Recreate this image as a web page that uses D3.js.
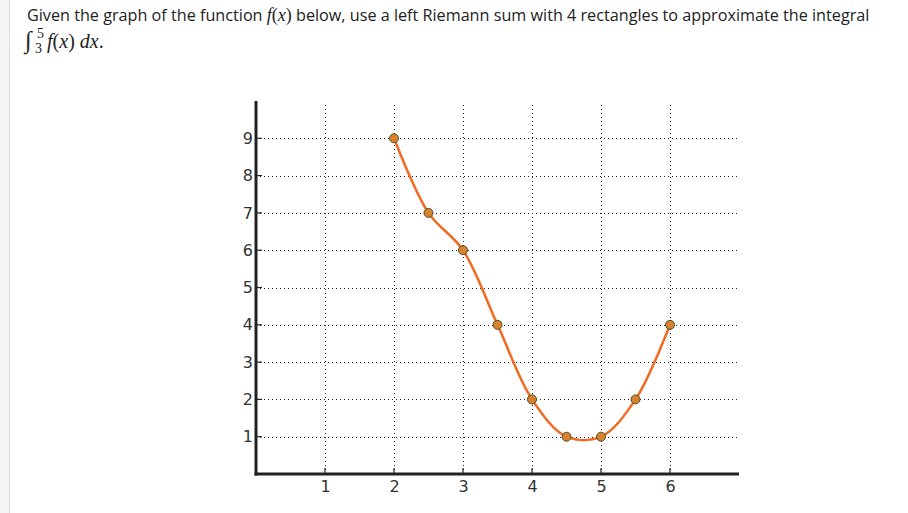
<!DOCTYPE html>
<html>
<head>
<meta charset="utf-8">
<script src="https://cdn.jsdelivr.net/npm/d3@7"></script>
<style>
    html, body { margin: 0; padding: 0; background: #fff; }
    .grid line { stroke: #222; stroke-width: 1; stroke-dasharray: 1, 3; }
    .q { font-family: "Open Sans", sans-serif; font-size: 16.2px; fill: #222; }
    .m { font-family: "Liberation Serif", serif; font-style: italic; }
</style>
</head>
<body>
<svg id="chart" width="908" height="513"></svg>
<script>
// function values
const xs = [2, 2.5, 3, 3.5, 4, 4.5, 5, 5.5, 6];
const ys = [9, 7, 6, 4, 2, 1, 1, 2, 4];
const xTicks = [1, 2, 3, 4, 5, 6];
const yTicks = [1, 2, 3, 4, 5, 6, 7, 8, 9];

const svg = d3.select('#chart');

// page chrome: grey strip on the left
svg.append('rect').attr('x', 0).attr('y', 0).attr('width', 9).attr('height', 513).attr('fill', '#f4f4f4');
svg.append('line').attr('x1', 9.5).attr('x2', 9.5).attr('y1', 0).attr('y2', 513).attr('stroke', '#dcdcdc');

// question text
const t1 = svg.append('text').attr('class', 'q').attr('x', 27).attr('y', 21);
t1.append('tspan').text('Given the graph of the function ');
t1.append('tspan').attr('class', 'm').attr('font-size', 18).text('f');
t1.append('tspan').attr('font-family', 'Liberation Serif').attr('font-size', 18).text('(');
t1.append('tspan').attr('class', 'm').attr('font-size', 18).text('x');
t1.append('tspan').attr('font-family', 'Liberation Serif').attr('font-size', 18).text(')');
t1.append('tspan').text(' below, use a left Riemann sum with 4 rectangles to approximate the integral');

const t2 = svg.append('g').attr('font-family', 'Liberation Serif').attr('fill', '#222');
t2.append('text').attr('x', 25).attr('y', 48).attr('font-size', 24).text('\u222B');
t2.append('text').attr('x', 37).attr('y', 38).attr('font-size', 14).text('5');
t2.append('text').attr('x', 35).attr('y', 53).attr('font-size', 14).text('3');
const t3 = t2.append('text').attr('x', 47).attr('y', 48).attr('font-size', 20);
t3.append('tspan').attr('class', 'm').text('f');
t3.append('tspan').text('(');
t3.append('tspan').attr('class', 'm').text('x');
t3.append('tspan').text(') ');
t3.append('tspan').attr('class', 'm').text('dx');
t3.append('tspan').text('.');

// plot
const x = d3.scaleLinear().domain([0, 7]).range([256, 739]);
const y = d3.scaleLinear().domain([0, 10]).range([474, 101]);

const grid = svg.append('g').attr('class', 'grid');
grid.selectAll('.vg').data(xTicks).enter().append('line')
    .attr('x1', d => Math.round(x(d)) + 0.5).attr('x2', d => Math.round(x(d)) + 0.5)
    .attr('y1', y(0)).attr('y2', y(9.9));
grid.selectAll('.hg').data(yTicks).enter().append('line')
    .attr('x1', x(0)).attr('x2', x(7))
    .attr('y1', d => Math.round(y(d)) + 0.5).attr('y2', d => Math.round(y(d)) + 0.5);

// axes with inward ticks
const xAxis = d3.axisBottom(x).tickValues(xTicks).tickSize(0).tickPadding(7).tickFormat(d3.format('d'));
const yAxis = d3.axisLeft(y).tickValues(yTicks).tickSize(0).tickPadding(3).tickFormat(d3.format('d'));

const gx = svg.append('g').attr('transform', `translate(0,${y(0)})`).call(xAxis);
const gy = svg.append('g').attr('transform', `translate(${x(0)},0)`).call(yAxis);
[gx, gy].forEach(g => {
    g.attr('font-size', 16).attr('font-family', 'DejaVu Sans');
    g.select('.domain').remove();
    g.selectAll('text').attr('fill', '#333');
});

svg.append('g').selectAll('line').data(xTicks).enter().append('line')
    .attr('x1', d => x(d)).attr('x2', d => x(d))
    .attr('y1', y(0)).attr('y2', y(0) - 6)
    .attr('stroke', '#222').attr('stroke-width', 1.2);
svg.append('g').selectAll('line').data(yTicks).enter().append('line')
    .attr('x1', x(0)).attr('x2', x(0) + 6)
    .attr('y1', d => y(d)).attr('y2', d => y(d))
    .attr('stroke', '#222').attr('stroke-width', 1.2);

svg.append('line').attr('x1', x(0)).attr('x2', x(0)).attr('y1', y(0) + 1.5).attr('y2', y(10))
    .attr('stroke', '#222').attr('stroke-width', 3);
svg.append('line').attr('x1', x(0) - 1.5).attr('x2', x(7)).attr('y1', y(0)).attr('y2', y(0))
    .attr('stroke', '#222').attr('stroke-width', 3);

// curve
const pts = xs.map((v, i) => [v, ys[i]]);
const line = d3.line().x(d => x(d[0])).y(d => y(d[1])).curve(d3.curveCatmullRom.alpha(0.5));
svg.append('path').datum(pts).attr('d', line)
    .attr('fill', 'none').attr('stroke', '#f26a21').attr('stroke-width', 2.5);

svg.selectAll('.pt').data(pts).enter().append('circle')
    .attr('cx', d => x(d[0])).attr('cy', d => y(d[1])).attr('r', 4.5)
    .attr('fill', '#d9822b').attr('stroke', '#4a5030').attr('stroke-width', 1);
</script>
</body>
</html>
